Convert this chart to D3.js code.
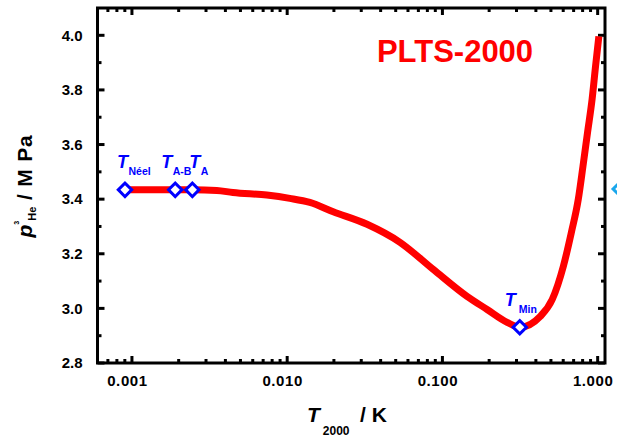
<!DOCTYPE html>
<html>
<head>
<meta charset="utf-8">
<script src="https://cdn.jsdelivr.net/npm/d3@7"></script>
<style>
body { margin: 0; background: #fff; }
svg { display: block; font-family: "Liberation Sans", Arial, sans-serif; font-weight: bold; }
</style>
</head>
<body>
<svg id="chart" width="617" height="438"></svg>
<script>
// melting curve of 3He (T in K, p in MPa)
const curveT = [0.000902, 0.0015, 0.0019, 0.00245, 0.00352, 0.00447, 0.00739, 0.0104, 0.014, 0.0198, 0.0327, 0.0533, 0.0871, 0.144, 0.194, 0.261, 0.315, 0.427, 0.510, 0.601, 0.677, 0.750, 0.804, 0.861, 0.921, 0.969, 1.018];
const curveP = [3.434, 3.434, 3.434, 3.434, 3.432, 3.424, 3.415, 3.403, 3.388, 3.354, 3.308, 3.242, 3.143, 3.044, 2.996, 2.949, 2.931, 2.971, 3.033, 3.154, 3.278, 3.399, 3.520, 3.645, 3.766, 3.886, 3.996];

// fixed points
const fixNames = ["Néel", "A-B", "A", "Min"];
const fixT = [0.000902, 0.00190, 0.00245, 0.315];
const fixP = [3.434, 3.434, 3.434, 2.931];

const xMajor = [0.001, 0.01, 0.1, 1];
const yMajor = [2.8, 3.0, 3.2, 3.4, 3.6, 3.8, 4.0];
const yMinor = [2.9, 3.1, 3.3, 3.5, 3.7, 3.9];

const svg = d3.select("#chart");
const plotLeft = 97.5, plotRight = 605, plotTop = 8, plotBottom = 363;
const MAJOR_LEN = 7, MINOR_LEN = 4;

const x = d3.scaleLog().domain([0.0006, 1.115]).range([plotLeft, plotRight]);
const y = d3.scaleLinear().domain([2.8, 4.1]).range([plotBottom, plotTop]);

// minor log ticks 2..9 of each decade
var xMinor = [];
for (var d = -4; d <= 0; d++)
	for (var m = 2; m <= 9; m++)
	{
		const v = m * Math.pow(10, d);
		if (v > 0.0006 && v < 1.115) xMinor.push(v);
	}

function styleLabels(g)
{
	g.select(".domain").remove();
	g.selectAll(".tick line").remove();
	g.selectAll("text")
		.attr("font-size", 15)
		.attr("font-weight", "bold")
		.attr("font-family", "Liberation Sans, Arial, sans-serif")
		.attr("fill", "#000");
}

// tick labels
svg.append("g").attr("transform", `translate(0,${plotBottom})`)
	.call(d3.axisBottom(x).tickValues(xMajor).tickSize(0).tickPadding(12).tickFormat(d3.format(".3f")))
	.call(styleLabels)
	.call(g => g.selectAll("text").attr("letter-spacing", 0.6).attr("dx", -5));
svg.append("g").attr("transform", `translate(${plotLeft},0)`)
	.call(d3.axisLeft(y).tickValues(yMajor).tickSize(0).tickPadding(15).tickFormat(d3.format(".1f")))
	.call(styleLabels);

// inward tick marks on all four sides
const ticks = svg.append("g").attr("stroke", "#000").attr("stroke-width", 3);
function xTicks(values, len)
{
	ticks.selectAll(null).data(values).enter().append("line")
		.attr("x1", d => x(d)).attr("x2", d => x(d))
		.attr("y1", plotBottom).attr("y2", plotBottom - len);
	ticks.selectAll(null).data(values).enter().append("line")
		.attr("x1", d => x(d)).attr("x2", d => x(d))
		.attr("y1", plotTop).attr("y2", plotTop + len);
}
function yTicks(values, len)
{
	ticks.selectAll(null).data(values).enter().append("line")
		.attr("y1", d => y(d)).attr("y2", d => y(d))
		.attr("x1", plotLeft).attr("x2", plotLeft + len);
	ticks.selectAll(null).data(values).enter().append("line")
		.attr("y1", d => y(d)).attr("y2", d => y(d))
		.attr("x1", plotRight).attr("x2", plotRight - len);
}
xTicks(xMajor, MAJOR_LEN);
xTicks(xMinor, MINOR_LEN);
yTicks(yMajor, MAJOR_LEN);
yTicks(yMinor, MINOR_LEN);

// frame
svg.append("rect")
	.attr("x", plotLeft).attr("y", plotTop)
	.attr("width", plotRight - plotLeft).attr("height", plotBottom - plotTop)
	.attr("fill", "none").attr("stroke", "#000").attr("stroke-width", 3);

// the curve
const line = d3.line()
	.x(d => x(d[0]))
	.y(d => y(d[1]))
	.curve(d3.curveMonotoneX);
svg.append("path")
	.datum(d3.zip(curveT, curveP))
	.attr("d", line)
	.attr("fill", "none")
	.attr("stroke", "#ff0000")
	.attr("stroke-width", 7);

// fixed point markers
const diamond = d3.symbol().type(d3.symbolSquare).size(90);
svg.selectAll(".fix")
	.data(d3.zip(fixT, fixP))
	.enter()
	.append("path")
	.attr("class", "fix")
	.attr("d", diamond)
	.attr("transform", d => `translate(${x(d[0])},${y(d[1])}) rotate(45)`)
	.attr("fill", "#fff")
	.attr("stroke", "#0000ff")
	.attr("stroke-width", 3);

// labels of the fixed points (offsets from marker)
const labelDx = [-8, -14, -3, -15];
const labelDy = [-22, -22, -22, -21];
fixNames.forEach(function (name, i)
{
	const t = svg.append("text")
		.attr("x", x(fixT[i]) + labelDx[i])
		.attr("y", y(fixP[i]) + labelDy[i])
		.attr("fill", "#0000ff");
	t.append("tspan").attr("font-size", 18).attr("font-style", "italic").text("T");
	t.append("tspan").attr("font-size", 10.5).attr("dx", i == 3 ? 3 : 0.5).attr("dy", 7).text(name);
});

// chart title
svg.append("text")
	.attr("x", 455).attr("y", 62)
	.attr("text-anchor", "middle")
	.attr("font-size", 31)
	.attr("fill", "#ff0000")
	.text("PLTS-2000");

// x axis title
const xt = svg.append("text").attr("x", 307).attr("y", 422).attr("fill", "#000");
xt.append("tspan").attr("font-size", 21).attr("font-style", "italic").text("T");
xt.append("tspan").attr("font-size", 12).attr("dx", 3).attr("dy", 13).text("2000");
svg.append("text").attr("x", 360).attr("y", 422).attr("font-size", 21).attr("fill", "#000").text("/ K");

// y axis title
const yt = svg.append("text")
	.attr("transform", "translate(32,186) rotate(-90)")
	.attr("text-anchor", "middle")
	.attr("fill", "#000");
yt.append("tspan").attr("font-size", 21).attr("font-style", "italic").text("p");
yt.append("tspan").attr("font-size", 7).attr("dy", -13).text("3");
yt.append("tspan").attr("font-size", 11).attr("dy", 17).text("He");
yt.append("tspan").attr("font-size", 21).attr("dy", -4).attr("letter-spacing", 0.8).text(" / M Pa");

// cut-off marker at the right edge of the picture
svg.append("path")
	.attr("d", d3.symbol().type(d3.symbolSquare).size(160))
	.attr("transform", "translate(622,189) rotate(45)")
	.attr("fill", "#fff")
	.attr("stroke", "#1aa7ec")
	.attr("stroke-width", 3);
</script>
</body>
</html>
